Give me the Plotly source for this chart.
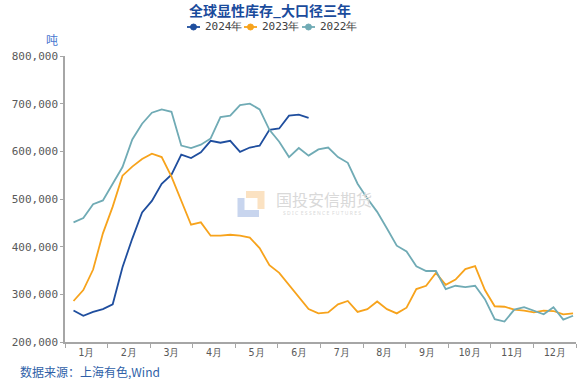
import plotly.graph_objects as go

# ---- data ----
weeks = list(range(1, 53))
month_labels = ["1月", "2月", "3月", "4月", "5月", "6月", "7月", "8月", "9月", "10月", "11月", "12月"]

inv_2024 = [266000, 255000, 263000, 269000, 279000, 357000, 417000, 472000, 496000, 532000,
            551000, 593000, 586000, 598000, 622000, 618000, 622000, 599000, 608000, 612000,
            645000, 648000, 675000, 677000, 670000]

inv_2023 = [286000, 309000, 352000, 428000, 484000, 549000, 568000, 584000, 595000, 588000,
            547000, 496000, 446000, 451000, 423000, 423000, 425000, 423000, 419000, 397000,
            361000, 345000, 320000, 293000, 269000, 260000, 262000, 279000, 286000, 263000,
            269000, 285000, 269000, 260000, 272000, 311000, 318000, 345000, 320000, 331000,
            353000, 359000, 309000, 275000, 274000, 268000, 266000, 262000, 266000, 265000,
            258000, 260000]

inv_2022 = [451000, 460000, 489000, 497000, 532000, 567000, 625000, 658000, 681000, 688000,
            683000, 612000, 607000, 614000, 627000, 672000, 675000, 697000, 700000, 688000,
            645000, 620000, 588000, 607000, 591000, 604000, 608000, 588000, 576000, 532000,
            501000, 473000, 438000, 402000, 390000, 359000, 349000, 349000, 311000, 318000,
            315000, 318000, 290000, 248000, 243000, 268000, 273000, 265000, 258000, 273000,
            247000, 255000]

series_names = ["2024年", "2023年", "2022年"]
series_values = [inv_2024, inv_2023, inv_2022]
series_colors = ["#1f4e9e", "#f7a31c", "#70abb5"]

y_ticks = [200000, 300000, 400000, 500000, 600000, 700000, 800000]

# week -> position on a 0..12 month scale
def pos(w):
    return (w - 0.13) * 12 / 52.17

W, H = 588, 384
L, R, T, B = 65, 12, 56, 42
pw, ph = W - L - R, H - T - B

def px_x(px):
    return (px - L) / pw

def px_y(py):
    return (H - B - py) / ph

fig = go.Figure()
for name, vals, col in zip(series_names, series_values, series_colors):
    fig.add_trace(go.Scatter(
        x=[pos(w) for w in weeks[:len(vals)]], y=vals, mode="lines",
        line=dict(color=col, width=1.8), showlegend=False, name=name))

mono = "DejaVu Sans Mono"
fig.update_layout(
    width=W, height=H, margin=dict(l=L, r=R, t=T, b=B),
    paper_bgcolor="white", plot_bgcolor="white",
    showlegend=False,
    xaxis=dict(range=[0, 12], showgrid=False, zeroline=False,
               showline=True, linecolor="#a6a6a6", linewidth=1.5,
               tickvals=[i + 0.5 for i in range(12)], ticktext=month_labels,
               ticks="", tickfont=dict(family=mono, size=10, color="#595959"),
               minor=dict(tick0=0, dtick=1, ticks="outside", ticklen=4,
                          tickcolor="#a6a6a6", tickwidth=1, showgrid=False)),
    yaxis=dict(range=[200000, 800000], showgrid=False, zeroline=False,
               showline=True, linecolor="#a6a6a6", linewidth=1.5,
               tickvals=y_ticks, tickformat=",", ticks="outside", ticklen=3,
               tickcolor="#a6a6a6", tickfont=dict(family=mono, size=11, color="#595959")),
)

# compact legend (line + dot + label) like the reference
leg_y = 27
leg_x0 = [187, 244, 302]
for x0, name, col in zip(leg_x0, series_names, series_colors):
    fig.add_shape(type="line", xref="paper", yref="paper",
                  x0=px_x(x0), x1=px_x(x0 + 13), y0=px_y(leg_y), y1=px_y(leg_y),
                  line=dict(color=col, width=1.8))
    fig.add_shape(type="circle", xref="paper", yref="paper",
                  x0=px_x(x0 + 3.5), x1=px_x(x0 + 9.5), y0=px_y(leg_y + 3), y1=px_y(leg_y - 3),
                  line=dict(color=col, width=1), fillcolor=col)
    fig.add_annotation(text=name, xref="paper", yref="paper", x=px_x(x0 + 16), y=px_y(leg_y),
                       xanchor="left", yanchor="middle", showarrow=False,
                       font=dict(family=mono, size=11, color="#404040"))

# title
fig.add_annotation(text="<b>全球显性库存_大口径三年</b>", xref="paper", yref="paper",
                   x=px_x(270), y=px_y(10), xanchor="center", yanchor="middle",
                   showarrow=False, font=dict(family="Noto Sans CJK SC", size=14, color="#1a4b9c"))
# unit
fig.add_annotation(text="吨", xref="paper", yref="paper", x=px_x(52), y=px_y(40),
                   xanchor="center", yanchor="middle", showarrow=False,
                   font=dict(family="Noto Sans CJK SC", size=12, color="#4a78d0"))
# source
fig.add_annotation(text="数据来源：上海有色,Wind", xref="paper", yref="paper", x=px_x(18), y=px_y(371),
                   xanchor="left", yanchor="middle", showarrow=False,
                   font=dict(family="Noto Sans CJK SC", size=12, color="#2f5fa8"))
# watermark
fig.add_shape(type="path", xref="paper", yref="paper",
              path=f"M {px_x(241)} {px_y(198)} L {px_x(241)} {px_y(213.5)} L {px_x(259)} {px_y(213.5)}",
              line=dict(color="#c8d5ee", width=7), layer="below")
fig.add_shape(type="path", xref="paper", yref="paper",
              path=f"M {px_x(246)} {px_y(194.5)} L {px_x(261)} {px_y(194.5)} L {px_x(261)} {px_y(209)}",
              line=dict(color="#fbe2c2", width=7), layer="below")
fig.add_annotation(text="国投安信期货", xref="paper", yref="paper", x=px_x(274), y=px_y(199),
                   xanchor="left", yanchor="middle", showarrow=False,
                   font=dict(family="Noto Sans CJK SC", size=16, color="#d9d9d9"))
fig.add_annotation(text="S D I C  E S S E N C E  F U T U R E S", xref="paper", yref="paper",
                   x=px_x(322), y=px_y(213), xanchor="center", yanchor="middle", showarrow=False,
                   font=dict(family="Noto Sans", size=5, color="#d9d9d9"))

fig.write_html("out.html", config={"displayModeBar": False},
               post_script="document.body.style.margin='0';document.body.style.overflow='hidden';")
